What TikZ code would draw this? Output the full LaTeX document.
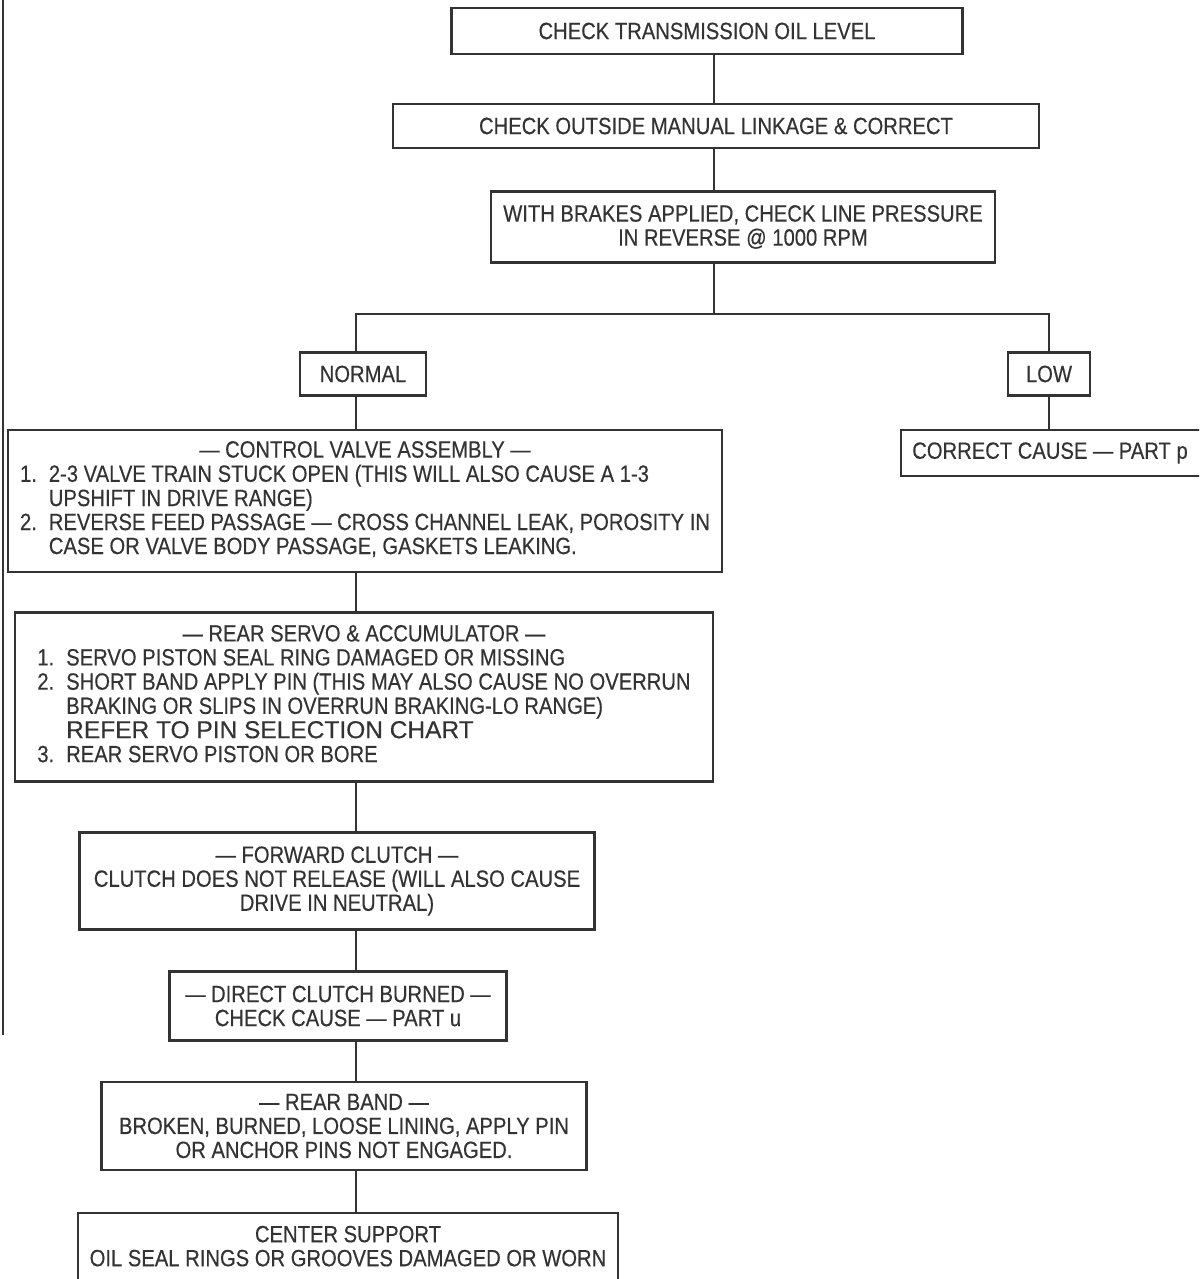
\documentclass[tikz,border=0pt]{standalone}
\usepackage{fontspec}
\setmainfont{Liberation Sans}[FakeStretch=0.86,FakeBold=0.4]
\newfontfamily\plainfont{Liberation Sans}[FakeBold=0.4]
\usepackage{tikz}
\usetikzlibrary{positioning}
\definecolor{ink}{HTML}{333333}

\begin{document}
\begin{tikzpicture}[x=1pt,y=-1pt,
  box/.style 2 args={draw=ink,line width=2.6pt,text=ink,inner sep=0pt,align=center,
              minimum width=#1,minimum height=#2,font=\fontsize{23.5}{24}\selectfont},
  wire/.style={draw=ink,line width=2.6pt}
]
\useasboundingbox (0,0) rectangle (1199,1279);
\clip (0,0) rectangle (1199,1279);
\draw[wire] (3,0) -- (3,1035);
\coordinate (stem) at (714,0);
\coordinate (trunk) at (356,0);
\node[box={511pt}{46pt}] (oil) at (707,31) {CHECK TRANSMISSION OIL LEVEL};
\node[box={646pt}{44pt}] (linkage) at (716,126) {CHECK OUTSIDE MANUAL LINKAGE \& CORRECT};
\node[box={504pt}{71pt}] (press) at (743,227) {WITH BRAKES APPLIED, CHECK LINE PRESSURE\\IN REVERSE @ 1000 RPM};
\node[box={126pt}{43pt}] (normal) at (363,374) {NORMAL};
\node[box={82pt}{43pt}] (low) at (1049,374) {LOW};
\node[box={320pt}{46pt}] (cause) at (1061,453) {CORRECT CAUSE — PART p\hspace{22pt}};
\node[box={714pt}{142pt}] (cva) at (365,501) {\begin{tabular}{@{}l@{\hspace{12pt}}l@{}}
  \multicolumn{2}{c}{— CONTROL VALVE ASSEMBLY —}\\
  1. & 2-3 VALVE TRAIN STUCK OPEN (THIS WILL ALSO CAUSE A 1-3\\
     & UPSHIFT IN DRIVE RANGE)\\
  2. & REVERSE FEED PASSAGE — CROSS CHANNEL LEAK, POROSITY IN\\
     & CASE OR VALVE BODY PASSAGE, GASKETS LEAKING.
  \end{tabular}};
\node[box={698pt}{169pt}] (rsa) at (364,697) {\begin{tabular}{@{}l@{\hspace{12pt}}l@{}}
  \multicolumn{2}{c}{— REAR SERVO \& ACCUMULATOR —}\\
  1. & SERVO PISTON SEAL RING DAMAGED OR MISSING\\
  2. & SHORT BAND APPLY PIN (THIS MAY ALSO CAUSE NO OVERRUN\\
     & BRAKING OR SLIPS IN OVERRUN BRAKING-LO RANGE)\\
     & {\plainfont\fontsize{24.5}{24}\selectfont REFER TO PIN SELECTION CHART}\\
  3. & REAR SERVO PISTON OR BORE
  \end{tabular}};
\node[box={515pt}{97pt}] (fc) at (337,881) {— FORWARD CLUTCH —\\CLUTCH DOES NOT RELEASE (WILL ALSO CAUSE\\DRIVE IN NEUTRAL)};
\node[box={337pt}{69pt}] (dc) at (338,1006) {— DIRECT CLUTCH BURNED —\\CHECK CAUSE — PART u};
\node[box={485pt}{88pt}] (rb) at (344,1126) {— REAR BAND —\\BROKEN, BURNED, LOOSE LINING, APPLY PIN\\OR ANCHOR PINS NOT ENGAGED.};
\node[box={540pt}{96pt},text depth=30pt] (cs) at (348,1261) {CENTER SUPPORT\\OIL SEAL RINGS OR GROOVES DAMAGED OR WORN};
\draw[wire] (oil.south -| stem) -- (linkage.north -| stem);
\draw[wire] (linkage.south -| stem) -- (press.north -| stem);
\draw[wire] (press.south -| stem) -- ++(0,50) coordinate (fork);
\draw[wire] (normal.north -| trunk) |- (fork) -| (low.north);
\draw[wire] (low) -- (cause.north -| low);
\draw[wire] (normal.south -| trunk) -- (cva.north -| trunk);
\draw[wire] (cva.south -| trunk) -- (rsa.north -| trunk);
\draw[wire] (rsa.south -| trunk) -- (fc.north -| trunk);
\draw[wire] (fc.south -| trunk) -- (dc.north -| trunk);
\draw[wire] (dc.south -| trunk) -- (rb.north -| trunk);
\draw[wire] (rb.south -| trunk) -- (cs.north -| trunk);
\end{tikzpicture}
\end{document}
